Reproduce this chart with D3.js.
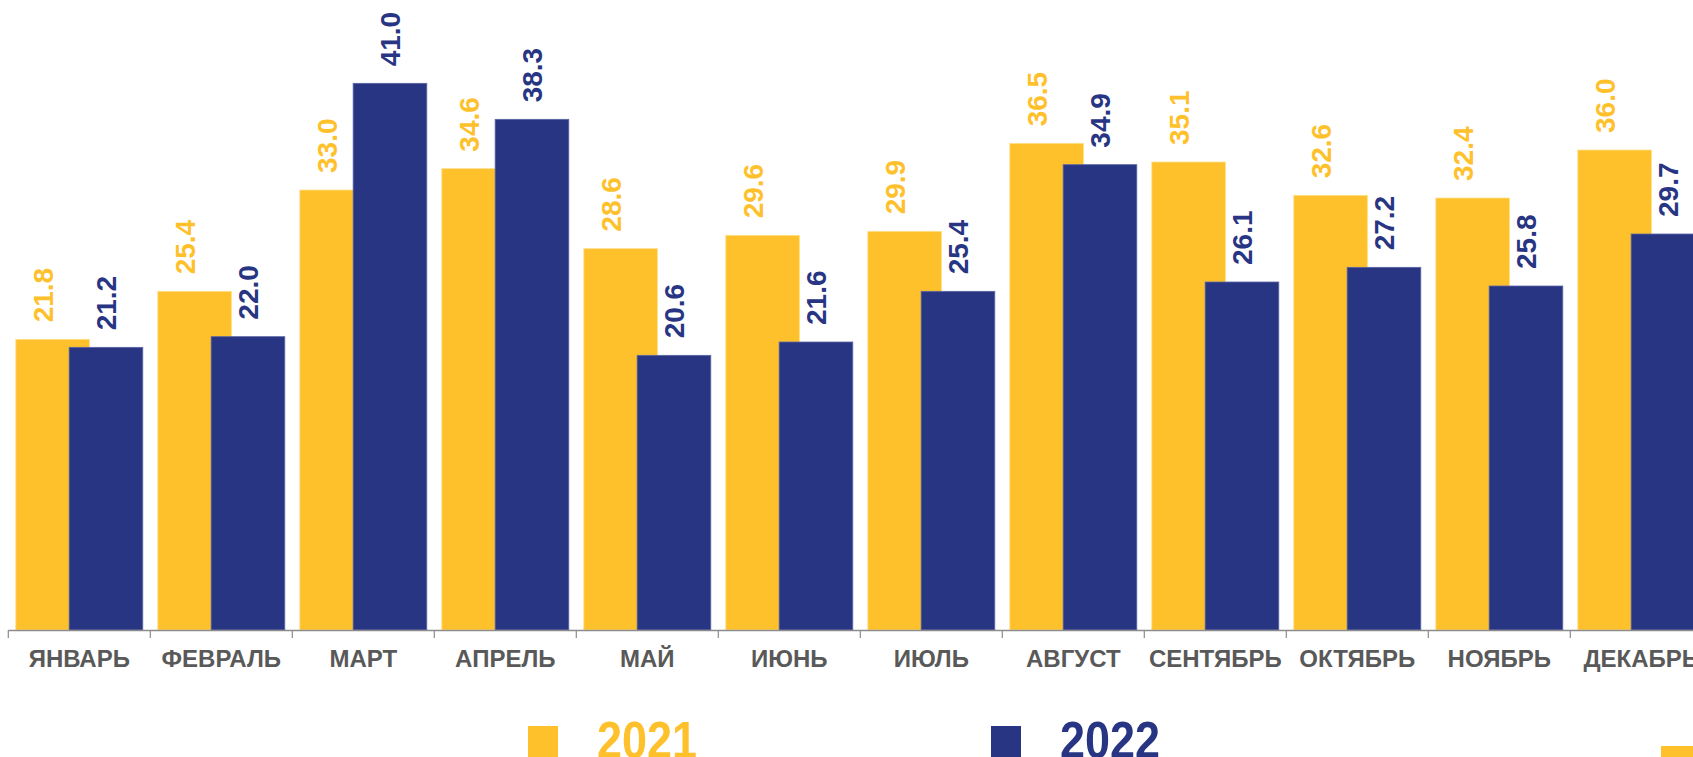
<!DOCTYPE html>
<html>
<head>
<meta charset="utf-8">
<script src="https://cdn.jsdelivr.net/npm/d3@7"></script>
<style>
    html, body { margin: 0; padding: 0; background: #ffffff; overflow: hidden; }
    svg { display: block; font-family: "Liberation Sans", Arial, sans-serif; }
</style>
</head>
<body>
<div id="chart"></div>
<script>
// Chart data
//
var months     = ['ЯНВАРЬ', 'ФЕВРАЛЬ', 'МАРТ', 'АПРЕЛЬ', 'МАЙ', 'ИЮНЬ',
                  'ИЮЛЬ', 'АВГУСТ', 'СЕНТЯБРЬ', 'ОКТЯБРЬ', 'НОЯБРЬ', 'ДЕКАБРЬ'];
var values2021 = [21.8, 25.4, 33.0, 34.6, 28.6, 29.6, 29.9, 36.5, 35.1, 32.6, 32.4, 36.0];
var values2022 = [21.2, 22.0, 41.0, 38.3, 20.6, 21.6, 25.4, 34.9, 26.1, 27.2, 25.8, 29.7];
var seriesNames = ['2021', '2022'];

// Globals
//
var svg_width   = 1693;
var svg_height  = 757;
var yellow      = '#FEC12C';
var blue        = '#283583';
var gray        = '#595959';

var x_box_min   = 8.3;
var step        = 142;
var y_box_min   = 30;
var y_box_max   = 630;

// Plot bar chart
//
function plotBars() {

    let svg = d3.select("#chart").append("svg")
        .attr('width', svg_width)
        .attr('height', svg_height)
        .attr('viewBox', `0 0 ${svg_width} ${svg_height}`);

    // Scales
    //
    let gap = 15 / step;
    let x = d3.scaleBand()
        .domain(months)
        .range([x_box_min, x_box_min + step * months.length])
        .paddingInner(gap)
        .paddingOuter(gap / 2);

    let y = d3.scaleLinear()
        .domain([0, 45])
        .range([y_box_max, y_box_min]);

    let bw      = x.bandwidth();
    let yFrac   = 0.42;             // visible share of the 2021 bar
    let barW    = bw * (1 - yFrac);  // both bars same width, 2022 overlaps 2021

    // 2021 bars
    //
    svg.append("g").selectAll("rect")
        .data(months)
        .join("rect")
        .attr('x', d => x(d))
        .attr('y', (d, i) => y(values2021[i]))
        .attr('width', barW)
        .attr('height', (d, i) => y(0) - y(values2021[i]))
        .attr('fill', yellow)
        .attr('stroke', '#ffe08a')
        .attr('stroke-width', 0.8);

    // 2022 bars
    //
    svg.append("g").selectAll("rect")
        .data(months)
        .join("rect")
        .attr('x', d => x(d) + bw * yFrac)
        .attr('y', (d, i) => y(values2022[i]))
        .attr('width', barW)
        .attr('height', (d, i) => y(0) - y(values2022[i]))
        .attr('fill', blue)
        .attr('stroke', '#5c66a6')
        .attr('stroke-width', 0.8);

    // Value labels
    //
    let labelGap = 17;
    let addLabels = function(values, cx, color) {
        svg.append("g").selectAll("text")
            .data(months)
            .join("text")
            .attr('transform', (d, i) => `translate(${cx(d)},${y(values[i]) - labelGap}) rotate(-90)`)
            .attr('dy', '0.36em')
            .style("text-anchor", "start")
            .style("font-size", "28px")
            .style("font-weight", "700")
            .style("fill", color)
            .text((d, i) => values[i].toFixed(1));
    };
    addLabels(values2021, d => x(d) + bw * yFrac / 2, yellow);
    addLabels(values2022, d => x(d) + bw * yFrac + barW / 2, blue);

    // X axis line and boundary ticks
    //
    let axis = svg.append("g").attr("class", "xAxis");
    axis.append("line")
        .attr('x1', x_box_min)
        .attr('x2', x_box_min + step * months.length)
        .attr('y1', y_box_max + 0.5)
        .attr('y2', y_box_max + 0.5)
        .attr('stroke', '#8c8c8c')
        .attr('stroke-width', 1.5);

    axis.selectAll("line.tick")
        .data(months)
        .join("line")
        .attr('class', 'tick')
        .attr('x1', d => x(d) - x.step() * gap / 2)
        .attr('x2', d => x(d) - x.step() * gap / 2)
        .attr('y1', y_box_max)
        .attr('y2', y_box_max + 8)
        .attr('stroke', '#8c8c8c')
        .attr('stroke-width', 1.2);

    axis.selectAll("text")
        .data(months)
        .join("text")
        .attr('x', d => x(d) + bw / 2)
        .attr('y', 667)
        .style("text-anchor", "middle")
        .style("font-size", "24px")
        .style("font-weight", "700")
        .style("fill", gray)
        .text(d => d);

    // Legend
    //
    let legend = svg.append("g").attr("class", "legend");
    let legendItems = [
        { name: seriesNames[0], color: yellow, x: 528 },
        { name: seriesNames[1], color: blue,   x: 991 }
    ];
    legend.selectAll("rect")
        .data(legendItems)
        .join("rect")
        .attr('x', d => d.x)
        .attr('y', 726)
        .attr('width', 30)
        .attr('height', 32)
        .attr('fill', d => d.color);

    legend.selectAll("text")
        .data(legendItems)
        .join("text")
        .attr('x', d => d.x + 69)
        .attr('y', 758)
        .attr('textLength', 100)
        .attr('lengthAdjust', 'spacingAndGlyphs')
        .style("font-size", "52px")
        .style("font-weight", "700")
        .style("fill", d => d.color)
        .text(d => d.name);

    // Cut-off third legend marker at the right edge
    //
    legend.append("rect")
        .attr('x', 1661)
        .attr('y', 746)
        .attr('width', 40)
        .attr('height', 20)
        .attr('fill', yellow);
}

plotBars();
</script>
</body>
</html>
